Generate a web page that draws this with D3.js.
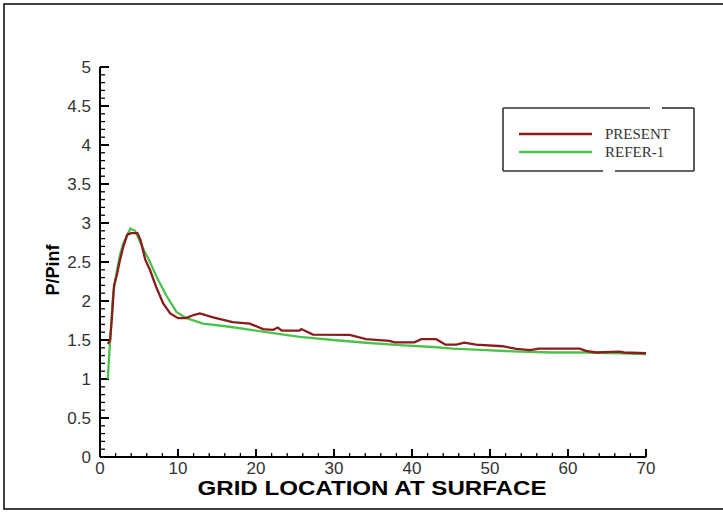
<!DOCTYPE html>
<html>
<head>
<meta charset="utf-8">
<script src="https://cdn.jsdelivr.net/npm/d3@7"></script>
<style>
    body { margin: 0; background: #fff; }
    svg { display: block; }
</style>
</head>
<body>
<svg id="chart-svg" width="723" height="514"></svg>
<script>

// PRESENT (dark red)
const presentX = [1, 1.3, 1.5, 1.8, 2.2, 2.5, 3, 3.5, 4, 4.8, 5.2, 5.8, 6.4, 7.2, 8.1, 9, 10, 11, 12, 12.8, 14.5, 17, 19.2, 20.9, 22.2, 22.8, 23.3, 25.6, 25.8, 27.3, 32, 34.1, 37.1, 37.8, 40.3, 41.2, 43.1, 44.3, 45.7, 46.7, 48.2, 51.6, 53.4, 55.1, 56.3, 61.5, 62.3, 63.6, 66.6, 67.2, 70];
const presentY = [1.45, 1.5, 1.75, 2.2, 2.35, 2.5, 2.7, 2.85, 2.87, 2.87, 2.78, 2.53, 2.4, 2.18, 1.97, 1.84, 1.78, 1.78, 1.82, 1.84, 1.79, 1.73, 1.71, 1.64, 1.63, 1.66, 1.62, 1.62, 1.64, 1.57, 1.565, 1.51, 1.49, 1.47, 1.47, 1.51, 1.51, 1.44, 1.44, 1.465, 1.44, 1.42, 1.385, 1.37, 1.39, 1.39, 1.36, 1.34, 1.35, 1.34, 1.33];

// REFER-1 (green)
const referX = [1, 1.3, 1.7, 2.1, 2.6, 3, 3.5, 3.9, 4.5, 5.5, 6.4, 7.3, 8.5, 9.8, 11.1, 13.2, 16.6, 21.3, 25.6, 29.9, 34.1, 38.4, 42.7, 45.2, 49.5, 53.8, 58, 62.3, 66.6, 70];
const referY = [1.0, 1.5, 2.1, 2.35, 2.61, 2.74, 2.85, 2.93, 2.9, 2.68, 2.5, 2.3, 2.07, 1.86, 1.78, 1.71, 1.67, 1.6, 1.54, 1.5, 1.465, 1.435, 1.41, 1.39, 1.37, 1.35, 1.34, 1.34, 1.33, 1.32];

const xTicks = [0, 10, 20, 30, 40, 50, 60, 70];
const yTicks = [0, 0.5, 1, 1.5, 2, 2.5, 3, 3.5, 4, 4.5, 5];
const seriesNames = ['PRESENT', 'REFER-1'];
const seriesColors = ['#8b1c1c', '#4cc24c'];

let chartSVG = d3.select('#chart-svg');

// outer frame
chartSVG.append('rect')
    .attr('x', 4).attr('y', 4)
    .attr('width', 730).attr('height', 505)
    .attr('fill', 'none')
    .attr('stroke', '#000')
    .attr('stroke-width', 1.5);

let xScale = d3.scaleLinear().domain([0, 70]).range([100, 646]);
let yScale = d3.scaleLinear().domain([0, 5]).range([457, 67]);

let g = chartSVG.append('g');

// minor ticks (inside)
const yMinor = d3.range(0, 5.001, 0.1);
const xMinor = d3.range(0, 70.001, 2);

g.selectAll('.yminor').data(yMinor).enter().append('line')
    .attr('x1', xScale(0)).attr('x2', xScale(0) + 5)
    .attr('y1', d => yScale(d)).attr('y2', d => yScale(d))
    .attr('stroke', '#000').attr('stroke-width', 1.3);

g.selectAll('.xminor').data(xMinor).enter().append('line')
    .attr('x1', d => xScale(d)).attr('x2', d => xScale(d))
    .attr('y1', yScale(0)).attr('y2', yScale(0) - 4)
    .attr('stroke', '#000').attr('stroke-width', 1.3);

// major ticks
g.selectAll('.ymajor').data(yTicks).enter().append('line')
    .attr('x1', xScale(0)).attr('x2', xScale(0) + 9)
    .attr('y1', d => yScale(d)).attr('y2', d => yScale(d))
    .attr('stroke', '#000').attr('stroke-width', 2);

g.selectAll('.xmajor').data(xTicks).enter().append('line')
    .attr('x1', d => xScale(d)).attr('x2', d => xScale(d))
    .attr('y1', yScale(0)).attr('y2', yScale(0) - 8)
    .attr('stroke', '#000').attr('stroke-width', 2);

// axis lines
g.append('line')
    .attr('x1', xScale(0)).attr('x2', xScale(0))
    .attr('y1', yScale(0)).attr('y2', yScale(5))
    .attr('stroke', '#000').attr('stroke-width', 2);
g.append('line')
    .attr('x1', xScale(0)).attr('x2', xScale(70))
    .attr('y1', yScale(0)).attr('y2', yScale(0))
    .attr('stroke', '#000').attr('stroke-width', 2);

// tick labels
g.selectAll('.ylabel').data(yTicks).enter().append('text')
    .attr('x', xScale(0) - 9)
    .attr('y', d => yScale(d) + 6)
    .attr('text-anchor', 'end')
    .style('font-family', 'Liberation Sans, Arial, sans-serif')
    .style('font-size', '17px')
    .style('fill', '#333')
    .text(d => d);

g.selectAll('.xlabel').data(xTicks).enter().append('text')
    .attr('x', d => xScale(d))
    .attr('y', yScale(0) + 17)
    .attr('text-anchor', 'middle')
    .style('font-family', 'Liberation Sans, Arial, sans-serif')
    .style('font-size', '17px')
    .style('fill', '#333')
    .text(d => d);

// axis titles
chartSVG.append('text')
    .attr('x', 372).attr('y', 495)
    .attr('text-anchor', 'middle')
    .attr('textLength', 349)
    .attr('lengthAdjust', 'spacingAndGlyphs')
    .style('font-family', 'Liberation Sans, Arial, sans-serif')
    .style('font-size', '20px')
    .style('font-weight', 'bold')
    .text('GRID LOCATION AT SURFACE');

chartSVG.append('text')
    .attr('transform', 'translate(59,270) rotate(-90)')
    .attr('text-anchor', 'middle')
    .style('font-family', 'Liberation Sans, Arial, sans-serif')
    .style('font-size', '18px')
    .style('font-weight', 'bold')
    .text('P/Pinf');

// lines
let lineGenerator = d3.line()
    .x(d => xScale(d[0]))
    .y(d => yScale(d[1]));

const referData = referX.map((x, i) => [x, referY[i]]);
const presentData = presentX.map((x, i) => [x, presentY[i]]);

g.append('path')
    .attr('d', lineGenerator(referData))
    .attr('fill', 'none')
    .attr('stroke', seriesColors[1])
    .attr('stroke-width', 2.3);

g.append('path')
    .attr('d', lineGenerator(presentData))
    .attr('fill', 'none')
    .attr('stroke', seriesColors[0])
    .attr('stroke-width', 2.3);

// legend box (with the small gaps in the border)
let legend = chartSVG.append('g');
const boxStroke = { stroke: '#333', width: 1.6 };
[[503, 108, 650, 108], [662, 108, 694, 108], [694, 108, 694, 171],
 [694, 171, 615, 171], [603, 171, 503, 171], [503, 171, 503, 108]].forEach(s => {
    legend.append('line')
        .attr('x1', s[0]).attr('y1', s[1]).attr('x2', s[2]).attr('y2', s[3])
        .attr('stroke', boxStroke.stroke)
        .attr('stroke-width', boxStroke.width);
});

seriesNames.forEach((name, i) => {
    let y = 134 + i * 18;
    legend.append('line')
        .attr('x1', 519).attr('x2', 592)
        .attr('y1', y).attr('y2', y)
        .attr('stroke', seriesColors[i])
        .attr('stroke-width', 2.3);
    legend.append('text')
        .attr('x', 605).attr('y', y + 5)
        .style('font-family', 'Liberation Serif, Times New Roman, serif')
        .style('font-size', '15px')
        .style('fill', '#333')
        .text(name);
});

</script>
</body>
</html>
